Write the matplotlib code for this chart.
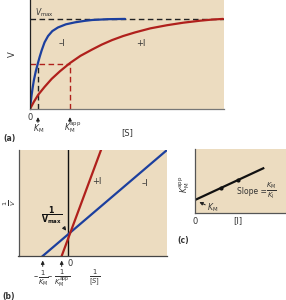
import matplotlib
matplotlib.use('Agg')
import matplotlib.pyplot as plt

# panel (a): velocity curves (Vmax = 1)
s_blue = [0, 0.03, 0.08, 0.14, 0.2, 0.3, 0.41, 0.5, 0.6, 0.75, 0.93, 1.15,
          1.44, 1.85, 2.32, 2.8, 3.2, 4.0, 4.9]
v_blue = [0, 0.06, 0.15, 0.24, 0.32, 0.42, 0.51, 0.58, 0.65, 0.74, 0.81, 0.865,
          0.905, 0.94, 0.962, 0.978, 0.988, 0.997, 1.0]
s_red = [0, 0.2, 0.43, 0.75, 1.12, 1.55, 2.06, 2.6, 3.2, 3.7, 4.23, 4.8,
         5.41, 6.2, 7.06, 7.9, 8.76, 9.4, 9.95]
v_red = [0, 0.08, 0.16, 0.245, 0.335, 0.42, 0.51, 0.59, 0.66, 0.715, 0.765, 0.81,
         0.85, 0.895, 0.93, 0.958, 0.98, 0.993, 1.0]
km = 0.41
km_app = 2.06

# panel (b): double reciprocal lines
inv_s_blue = [-2.2, 8.42]
inv_v_blue = [0, 4.82]
inv_s_red = [-0.58, 2.78]
inv_v_red = [0, 4.82]

# panel (c): apparent KM against [I]
conc_i = [0, 0.75]
km_app_line = [1.0, 3.38]
dots_i = [0.284, 0.478]
dots_km = [1.9, 2.5]

W, H = 286, 300
tan = '#ecdcc0'
blue = '#1c3f9e'
red = '#b0201c'
txt = '#333333'

fig = plt.figure(figsize=(W / 100, H / 100), dpi=100)


def px(x, y):
    return x / W, 1 - y / H


def ftext(x, y, s, **kw):
    kw.setdefault('fontsize', 6)
    kw.setdefault('color', txt)
    kw.setdefault('ha', 'center')
    kw.setdefault('va', 'center')
    fig.text(*px(x, y), s, **kw)


def style(ax):
    ax.set_facecolor(tan)
    ax.set_xticks([])
    ax.set_yticks([])
    ax.spines['top'].set_visible(False)
    ax.spines['right'].set_visible(False)
    ax.spines['left'].set_color('#222222')
    ax.spines['bottom'].set_color('#777777')
    ax.spines['left'].set_linewidth(0.9)
    ax.spines['bottom'].set_linewidth(0.9)


# ---------- (a)
ax = fig.add_axes([30 / W, 1 - 109 / H, 194 / W, 109 / H])
style(ax)
ax.set_xlim(0, 10)
ax.set_ylim(0, 1.21)
ax.axhline(1.0, color='#222222', ls=(0, (4, 2.5)), lw=1.0)
ax.plot([0, km_app], [0.5, 0.5], color=red, ls=(0, (4, 2.5)), lw=1.0)
ax.plot([km_app, km_app], [0, 0.5], color=red, ls=(0, (4, 2.5)), lw=1.0)
ax.plot([km, km], [0, 0.5], color='#222222', ls=(0, (4, 2.5)), lw=1.0)
ax.plot(s_blue, v_blue, color=blue, lw=1.6, solid_capstyle='round')
ax.plot(s_red, v_red, color=red, lw=1.6, solid_capstyle='round')
for xk in (km, km_app):
    ax.annotate('', xy=(xk, -0.06), xytext=(xk, -0.18), xycoords='data',
                annotation_clip=False,
                arrowprops=dict(arrowstyle='-|>', color='#222222', lw=0.7,
                                mutation_scale=5))

ftext(44, 13, r'$V_{\rm max}$', fontsize=5.5)
ftext(12, 54, 'V', rotation=90, fontsize=6)
ftext(62, 43, '–I', fontsize=6)
ftext(141, 43, '+I', fontsize=6)
ftext(30, 117, '0', fontsize=6)
ftext(39, 129, r'$K_{\rm M}$', fontsize=5.5)
ftext(73, 128, r'$K_{\rm M}^{\rm app}$', fontsize=5.5)
ftext(127, 133, '[S]', fontsize=6)
ftext(9, 139, '(a)', fontsize=5.5, fontweight='bold')

# ---------- (b)
ax = fig.add_axes([18.5 / W, 1 - 256 / H, 148.5 / W, 106 / H])
style(ax)
ax.spines['bottom'].set_color('#444444')
ax.spines['left'].set_color('#555555')
ax.set_xlim(-4.27, 8.42)
ax.set_ylim(0, 4.82)
ax.axvline(0, color='#111111', lw=1.0)
ax.plot(inv_s_blue, inv_v_blue, color=blue, lw=1.6)
ax.plot(inv_s_red, inv_v_red, color=red, lw=1.6)
for xk in (inv_s_blue[0], inv_s_red[0]):
    ax.annotate('', xy=(xk, -0.08), xytext=(xk, -0.6), xycoords='data',
                annotation_clip=False,
                arrowprops=dict(arrowstyle='-|>', color='#222222', lw=0.7,
                                mutation_scale=5))
ax.annotate('', xy=(-0.05, 1.05), xytext=(-0.55, 1.4), xycoords='data',
            arrowprops=dict(arrowstyle='-|>', color='#222222', lw=0.8,
                            mutation_scale=5))

ftext(52, 216, r'$\frac{\mathbf{1}}{\mathit{\mathbf{V}}_{\mathbf{max}}}$',
      fontsize=8, color='#111111')
ftext(10, 203, r'$\frac{1}{V}$', rotation=90, fontsize=6.5)
ftext(97, 182, '+I', fontsize=6)
ftext(145, 183, '–I', fontsize=6)
ftext(70, 263, '0', fontsize=6)
ftext(36, 277, '–', fontsize=6)
ftext(43, 278, r'$\frac{1}{K_{\rm M}}$', fontsize=7)
ftext(50, 277, '–', fontsize=6)
ftext(62, 278, r'$\frac{1}{K_{\rm M}^{\rm app}}$', fontsize=7)
ftext(95, 278, r'$\frac{1}{[S]}$', fontsize=7)
ftext(9, 296, '(b)', fontsize=5.5, fontweight='bold')

# ---------- (c)
ax = fig.add_axes([195 / W, 1 - 213.3 / H, 91 / W, 64.3 / H])
style(ax)
ax.spines['left'].set_color('#555555')
ax.spines['bottom'].set_color('#555555')
ax.set_xlim(0, 1)
ax.set_ylim(0, 4.83)
ax.plot(conc_i, km_app_line, color='#111111', lw=1.6)
ax.plot(dots_i, dots_km, 'o', color='#111111', ms=2)
ax.annotate('', xy=(0.02, 0.93), xytext=(0.14, 0.55), xycoords='data',
            arrowprops=dict(arrowstyle='-|>', color='#222222', lw=0.7,
                            mutation_scale=5))

ftext(213, 208, r'$K_{\rm M}$', fontsize=5.5)
ftext(252, 192, 'Slope =', fontsize=5.5)
ftext(271, 191, r'$\frac{K_{\rm M}}{K_{\rm I}}$', fontsize=7)
ftext(185, 184, r'$K_{\rm M}^{\rm app}$', rotation=90, fontsize=5.5)
ftext(195, 221, '0', fontsize=6)
ftext(238, 221, '[I]', fontsize=6)
ftext(183, 241, '(c)', fontsize=5.5, fontweight='bold')

fig.savefig('out.png', dpi=100)
